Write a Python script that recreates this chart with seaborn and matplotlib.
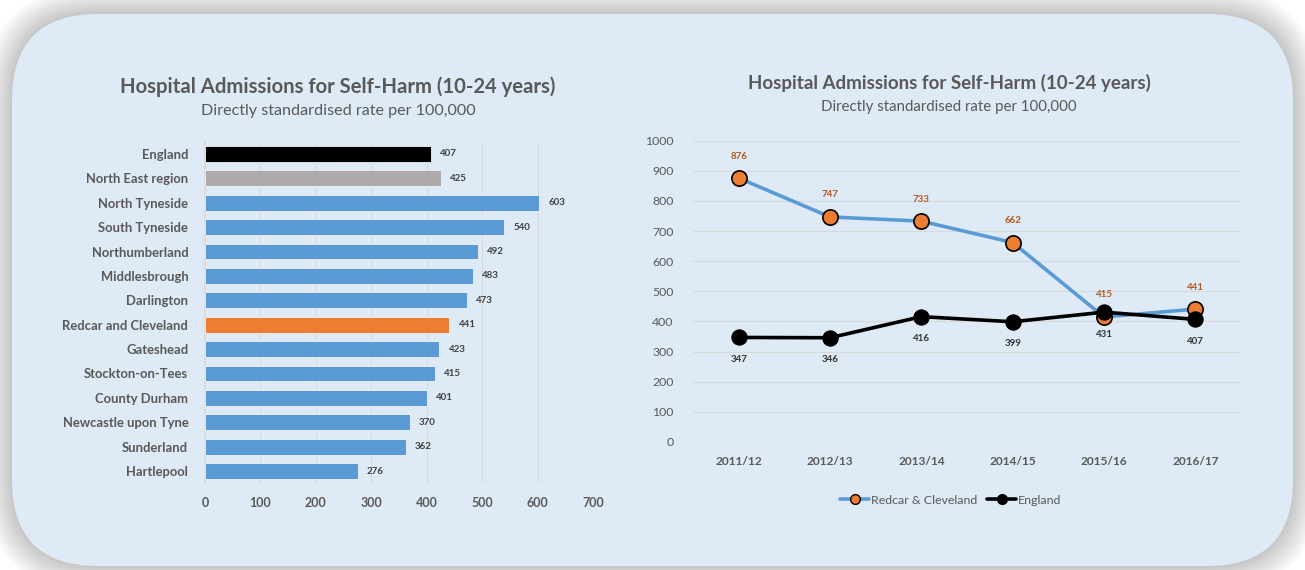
import matplotlib
matplotlib.use("Agg")
import matplotlib.pyplot as plt
from matplotlib.patches import FancyBboxPatch
from matplotlib.lines import Line2D
import seaborn as sns
import pandas as pd

# ---- data ----
areas = ["England", "North East region", "North Tyneside", "South Tyneside",
         "Northumberland", "Middlesbrough", "Darlington", "Redcar and Cleveland",
         "Gateshead", "Stockton-on-Tees", "County Durham", "Newcastle upon Tyne",
         "Sunderland", "Hartlepool"]
area_rates = [407, 425, 603, 540, 492, 483, 473, 441, 423, 415, 401, 370, 362, 276]

years = ["2011/12", "2012/13", "2013/14", "2014/15", "2015/16", "2016/17"]
redcar_rates = [876, 747, 733, 662, 415, 441]
england_rates = [347, 346, 416, 399, 431, 407]

bar_x_ticks = [0, 100, 200, 300, 400, 500, 600, 700]
line_y_ticks = [0, 100, 200, 300, 400, 500, 600, 700, 800, 900, 1000]

# ---- styling ----
BLUE = "#5B9BD5"
ORANGE = "#ED7D31"
GREY_BAR = "#AEAAAA"
TEXT = "#595959"
PANEL = "#DEEAF6"
GRID = "#D9D9D9"
bar_colors = ["#000000", GREY_BAR] + [BLUE] * 5 + [ORANGE] + [BLUE] * 6

sns.set_theme(style="white")
plt.rcParams["font.family"] = ["Lato", "DejaVu Sans"]

W, H = 1305, 570
fig = plt.figure(figsize=(W / 100, H / 100), dpi=100)
fig.patch.set_facecolor("white")

# background panel with soft shadow, drawn in pixel coordinates
bg = fig.add_axes([0, 0, 1, 1], zorder=-10)
bg.set_xlim(0, W)
bg.set_ylim(H, 0)
bg.axis("off")
x0, y0, x1, y1 = 12, 14, 1293, 566
R = 86
for i in range(28, 0, -1):
    bg.add_patch(FancyBboxPatch((x0 - i, y0 - i), (x1 - x0) + 2 * i, (y1 - y0) + 2 * i,
                                boxstyle=f"round,pad=0,rounding_size={R + i}",
                                facecolor="#888888", edgecolor="none", alpha=0.016))
bg.add_patch(FancyBboxPatch((x0, y0), x1 - x0, y1 - y0,
                            boxstyle=f"round,pad=0,rounding_size={R}",
                            facecolor=PANEL, edgecolor="none"))


def fig_box(left, top, right, bottom):
    return [left / W, 1 - bottom / H, (right - left) / W, (bottom - top) / H]


# ---- left: horizontal bar chart ----
ax1 = fig.add_axes(fig_box(205, 141.8, 593, 483.2))
ax1.set_facecolor("none")
bar_df = pd.DataFrame({"area": areas, "rate": area_rates})
sns.barplot(data=bar_df, x="rate", y="area", hue="area", palette=bar_colors,
            orient="h", width=0.65, legend=False, saturation=1, ax=ax1, zorder=3,
            edgecolor="#EEF4FA", linewidth=0.6)
ax1.set_xlim(0, 700)
ax1.set_xticks(bar_x_ticks)
ax1.xaxis.grid(True, color=GRID, linewidth=0.8, zorder=0)
ax1.set_axisbelow(True)
for s in ["top", "right", "bottom"]:
    ax1.spines[s].set_visible(False)
ax1.spines["left"].set_color(GRID)
ax1.set_xlabel("")
ax1.set_ylabel("")
ax1.tick_params(axis="y", length=0, pad=12, labelsize=9.4, labelcolor=TEXT)
ax1.tick_params(axis="x", length=0, pad=10, labelsize=9, labelcolor=TEXT)
for lab in ax1.get_yticklabels():
    lab.set_fontweight("bold")
for lab in ax1.get_xticklabels():
    lab.set_fontweight("bold")
for i, v in enumerate(area_rates):
    ax1.annotate(f"{v}", (v, i), xytext=(9, 0), textcoords="offset pixels",
                 va="center", ha="left", fontsize=7, color="#404040", fontweight="bold")

fig.text(338 / W, 1 - 87 / H, "Hospital Admissions for Self-Harm (10-24 years)",
         ha="center", va="center", fontsize=14.6, fontweight="bold", color=TEXT)
fig.text(338 / W, 1 - 111 / H, "Directly standardised rate per 100,000",
         ha="center", va="center", fontsize=11.6, color=TEXT)

# ---- right: trend lines ----
ax2 = fig.add_axes(fig_box(693, 140.7, 1241, 442))
ax2.set_facecolor("none")
line_df = pd.DataFrame({"year": years, "redcar": redcar_rates, "england": england_rates})
sns.lineplot(data=line_df, x="year", y="redcar", color=BLUE, linewidth=2.6,
             marker="o", markersize=11, markerfacecolor=ORANGE, markeredgecolor="black",
             markeredgewidth=1.2, ax=ax2, zorder=3)
sns.lineplot(data=line_df, x="year", y="england", color="black", linewidth=2.6,
             marker="o", markersize=11, markerfacecolor="black", markeredgecolor="black",
             ax=ax2, zorder=4)
ax2.set_xlim(-0.5, len(years) - 0.5)
ax2.set_ylim(0, 1000)
ax2.set_yticks(line_y_ticks)
ax2.yaxis.grid(True, color=GRID, linewidth=0.8, zorder=0)
ax2.set_axisbelow(True)
for s in ["top", "right", "bottom", "left"]:
    ax2.spines[s].set_visible(False)
ax2.set_xlabel("")
ax2.set_ylabel("")
ax2.tick_params(axis="y", length=0, pad=14, labelsize=8.8, labelcolor=TEXT)
ax2.tick_params(axis="x", length=0, pad=10, labelsize=8.6, labelcolor=TEXT)
for lab in ax2.get_xticklabels():
    lab.set_fontweight("bold")
for i, v in enumerate(redcar_rates):
    ax2.annotate(f"{v}", (i, v), xytext=(0, 22), textcoords="offset pixels",
                 ha="center", va="center", fontsize=7, color="#B35A1F", fontweight="bold")
for i, v in enumerate(england_rates):
    ax2.annotate(f"{v}", (i, v), xytext=(0, -22), textcoords="offset pixels",
                 ha="center", va="center", fontsize=7, color="#333333", fontweight="bold")

handles = [
    Line2D([], [], color=BLUE, linewidth=2.6, marker="o", markersize=7,
           markerfacecolor=ORANGE, markeredgecolor="black", markeredgewidth=1),
    Line2D([], [], color="black", linewidth=2.6, marker="o", markersize=7,
           markerfacecolor="black", markeredgecolor="black"),
]
fig.legend(handles, ["Redcar & Cleveland", "England"], ncol=2, frameon=False,
           loc="center", bbox_to_anchor=(951 / W, 1 - 500 / H), fontsize=8.9,
           labelcolor=TEXT, handlelength=2.3, handletextpad=0.2, columnspacing=0.8)

fig.text(949 / W, 1 - 83 / H, "Hospital Admissions for Self-Harm (10-24 years)",
         ha="center", va="center", fontsize=13.5, fontweight="bold", color=TEXT)
fig.text(949 / W, 1 - 107 / H, "Directly standardised rate per 100,000",
         ha="center", va="center", fontsize=10.8, color=TEXT)

fig.savefig("out.png", dpi=100, facecolor="white")
